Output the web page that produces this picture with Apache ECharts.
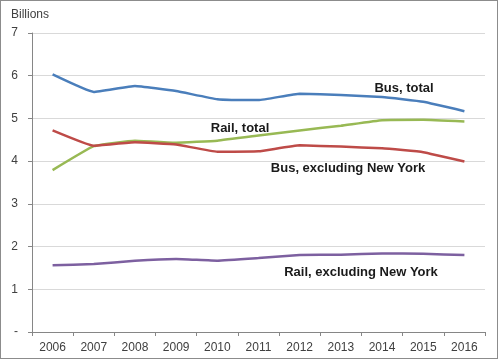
<!DOCTYPE html>
<html><head><meta charset="utf-8">
<script src="https://cdn.jsdelivr.net/npm/echarts@6/dist/echarts.min.js"></script>
<style>html,body{margin:0;padding:0;background:#fff}#c{width:498px;height:359px;box-sizing:border-box;border:1px solid #8c8c8c}</style>
</head><body><div id="c"></div>
<script>
const years = ['2006','2007','2008','2009','2010','2011','2012','2013','2014','2015','2016'];
const busTotal = [6.03,5.62,5.76,5.64,5.45,5.43,5.58,5.55,5.50,5.39,5.17];
const railTotal = [3.79,4.35,4.48,4.43,4.48,4.60,4.72,4.83,4.96,4.97,4.93];
const busExNY = [4.72,4.36,4.44,4.39,4.22,4.23,4.37,4.34,4.30,4.21,3.99];
const railExNY = [1.56,1.59,1.67,1.71,1.67,1.73,1.80,1.81,1.84,1.83,1.80];
const yTicks = ['-','1','2','3','4','5','6','7'];

const chart = echarts.init(document.getElementById('c'));
const ff = 'Liberation Sans';
function s(name, data, color){
  return {name, type:'line', data, smooth:0.1, symbol:'none',
    lineStyle:{color, width:2.5}, itemStyle:{color}};
}
chart.setOption({
  animation:false,
  grid:{left:31, right:12, top:32, bottom:26},
  xAxis:{type:'category', data:years, boundaryGap:true,
    axisLine:{lineStyle:{color:'#868686'}},
    axisTick:{show:true, length:4, lineStyle:{color:'#868686'}},
    axisLabel:{color:'#404040', fontFamily:ff, fontSize:12, margin:10}},
  yAxis:{type:'value', min:0, max:7, interval:1,
    axisLine:{show:true, lineStyle:{color:'#868686'}},
    axisTick:{show:true, length:4, lineStyle:{color:'#868686'}},
    splitLine:{lineStyle:{color:'#d9d9d9', width:1}},
    axisLabel:{color:'#404040', fontFamily:ff, fontSize:12, margin:14,
      formatter:(v)=>yTicks[Math.round(v)]}},
  series:[
    s('Bus, total', busTotal, '#4a7ebb'),
    s('Rail, total', railTotal, '#98b954'),
    s('Bus, excluding New York', busExNY, '#be4b48'),
    s('Rail, excluding New York', railExNY, '#7d60a0')
  ],
  graphic:[
    {type:'text', left:10, top:8, style:{text:'Billions', fill:'#404040', font:'12px '+ff}},
    {type:'text', x:403, y:87, style:{text:'Bus, total', fill:'#1a1a1a', font:'bold 13px '+ff, align:'center', verticalAlign:'middle'}},
    {type:'text', x:239, y:127, style:{text:'Rail, total', fill:'#1a1a1a', font:'bold 13px '+ff, align:'center', verticalAlign:'middle'}},
    {type:'text', x:347, y:167, style:{text:'Bus, excluding New York', fill:'#1a1a1a', font:'bold 13px '+ff, align:'center', verticalAlign:'middle'}},
    {type:'text', x:360, y:271, style:{text:'Rail, excluding New York', fill:'#1a1a1a', font:'bold 13px '+ff, align:'center', verticalAlign:'middle'}}
  ]
});
</script></body></html>
